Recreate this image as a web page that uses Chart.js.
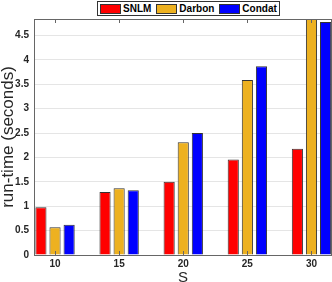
<!DOCTYPE html>
<html>
<head>
<meta charset="utf-8">
<script src="https://cdn.jsdelivr.net/npm/chart.js@4.4.1/dist/chart.umd.min.js"></script>
<style>
    body { margin: 0; background: #fff; overflow: hidden; }
    #wrap { position: relative; width: 332px; height: 282px; }
    #legend {
        position: absolute; left: 97px; top: 1px; height: 13px;
        border: 1px solid #333; background: #fff;
        display: flex; align-items: center; padding: 0 2px;
        font: bold 10px "Liberation Sans", Arial, sans-serif; color: #000;
    }
    .item { display: flex; align-items: center; margin-right: 5px; }
    .item:last-child { margin-right: 0; }
    .swatch { width: 19px; height: 8px; border: 1px solid #333; margin-right: 2px; }
</style>
</head>
<body>
<div id="wrap">
    <canvas id="myChart" width="332" height="282"></canvas>
    <div id="legend"></div>
</div>
<script>
const sizes = [10, 15, 20, 25, 30];
const seriesNames = ["SNLM", "Darbon", "Condat"];
const seriesColors = ["#ff0000", "#edb120", "#0000ff"];
const snlm = [0.98, 1.29, 1.50, 1.96, 2.18];
const darbon = [0.57, 1.37, 2.31, 3.59, 5.30];
const condat = [0.62, 1.33, 2.50, 3.87, 4.78];
const yTicks = [0, 0.5, 1, 1.5, 2, 2.5, 3, 3.5, 4, 4.5];

const fontFamily = '"Liberation Sans", Arial, sans-serif';

function renderLegend() {
    let legendRef = document.getElementById("legend");
    legendRef.innerHTML = "";
    for (let i = 0; i < seriesNames.length; i++) {
        legendRef.innerHTML += `<div class="item"><div class="swatch" style="background:${seriesColors[i]}"></div>${seriesNames[i]}</div>`;
    }
}

function toPoints(values) {
    return values.map((v, i) => ({ x: sizes[i], y: v }));
}

// Rahmen oben/rechts und Ticks nach innen wie in MATLAB
const frameTicks = {
    id: 'frameTicks',
    afterDraw(chart) {
        const ctx = chart.ctx;
        const a = chart.chartArea;
        const xs = chart.scales.x;
        ctx.save();
        ctx.strokeStyle = '#666';
        ctx.lineWidth = 1;
        ctx.beginPath();
        ctx.moveTo(a.left, a.top + 0.5);
        ctx.lineTo(a.right, a.top + 0.5);
        ctx.moveTo(a.right - 0.5, a.top);
        ctx.lineTo(a.right - 0.5, a.bottom);
        for (const s of sizes) {
            const px = Math.round(xs.getPixelForValue(s)) + 0.5;
            ctx.moveTo(px, a.top);
            ctx.lineTo(px, a.top + 4);
            ctx.moveTo(px, a.bottom);
            ctx.lineTo(px, a.bottom - 4);
        }
        ctx.stroke();
        ctx.restore();
    }
};

function makeDataset(i, values) {
    return {
        label: seriesNames[i],
        data: toPoints(values),
        backgroundColor: seriesColors[i],
        borderColor: '#333',
        borderWidth: 1,
        categoryPercentage: 0.66,
        barPercentage: 0.79
    };
}

renderLegend();

new Chart(document.getElementById('myChart'), {
    type: 'bar',
    data: {
        datasets: [
            makeDataset(0, snlm),
            makeDataset(1, darbon),
            makeDataset(2, condat)
        ]
    },
    options: {
        responsive: false,
        animation: false,
        layout: { padding: { top: 19, left: 0, right: 0, bottom: 0 } },
        scales: {
            x: {
                type: 'linear',
                offset: false,
                min: 8.36,
                max: 31.6,
                afterBuildTicks: scale => {
                    scale.ticks = sizes.map(v => ({ value: v }));
                },
                afterFit: scale => { scale.height = 27; },
                grid: { display: false, drawTicks: false },
                border: { display: true, color: '#666' },
                ticks: {
                    padding: 3,
                    color: '#262626',
                    font: { family: fontFamily, size: 10, weight: 'bold' }
                },
                title: {
                    display: true,
                    text: 'S',
                    color: '#262626',
                    padding: { top: 0, bottom: 0 },
                    font: { family: fontFamily, size: 15, lineHeight: 0.6 }
                }
            },
            y: {
                min: 0,
                max: 4.84,
                afterBuildTicks: scale => {
                    scale.ticks = yTicks.map(v => ({ value: v }));
                },
                afterFit: scale => { scale.width = 34; },
                grid: { color: '#e5e5e5', drawTicks: false },
                border: { display: true, color: '#666' },
                ticks: {
                    padding: 5,
                    color: '#262626',
                    font: { family: fontFamily, size: 10, weight: 'bold' },
                    callback: v => String(v)
                },
                title: {
                    display: true,
                    text: 'run-time (seconds)',
                    color: '#262626',
                    padding: { top: 0, bottom: 0 },
                    font: { family: fontFamily, size: 17, lineHeight: 1 }
                }
            }
        },
        plugins: {
            legend: { display: false },
            tooltip: { enabled: false }
        }
    },
    plugins: [frameTicks]
});
</script>
</body>
</html>
